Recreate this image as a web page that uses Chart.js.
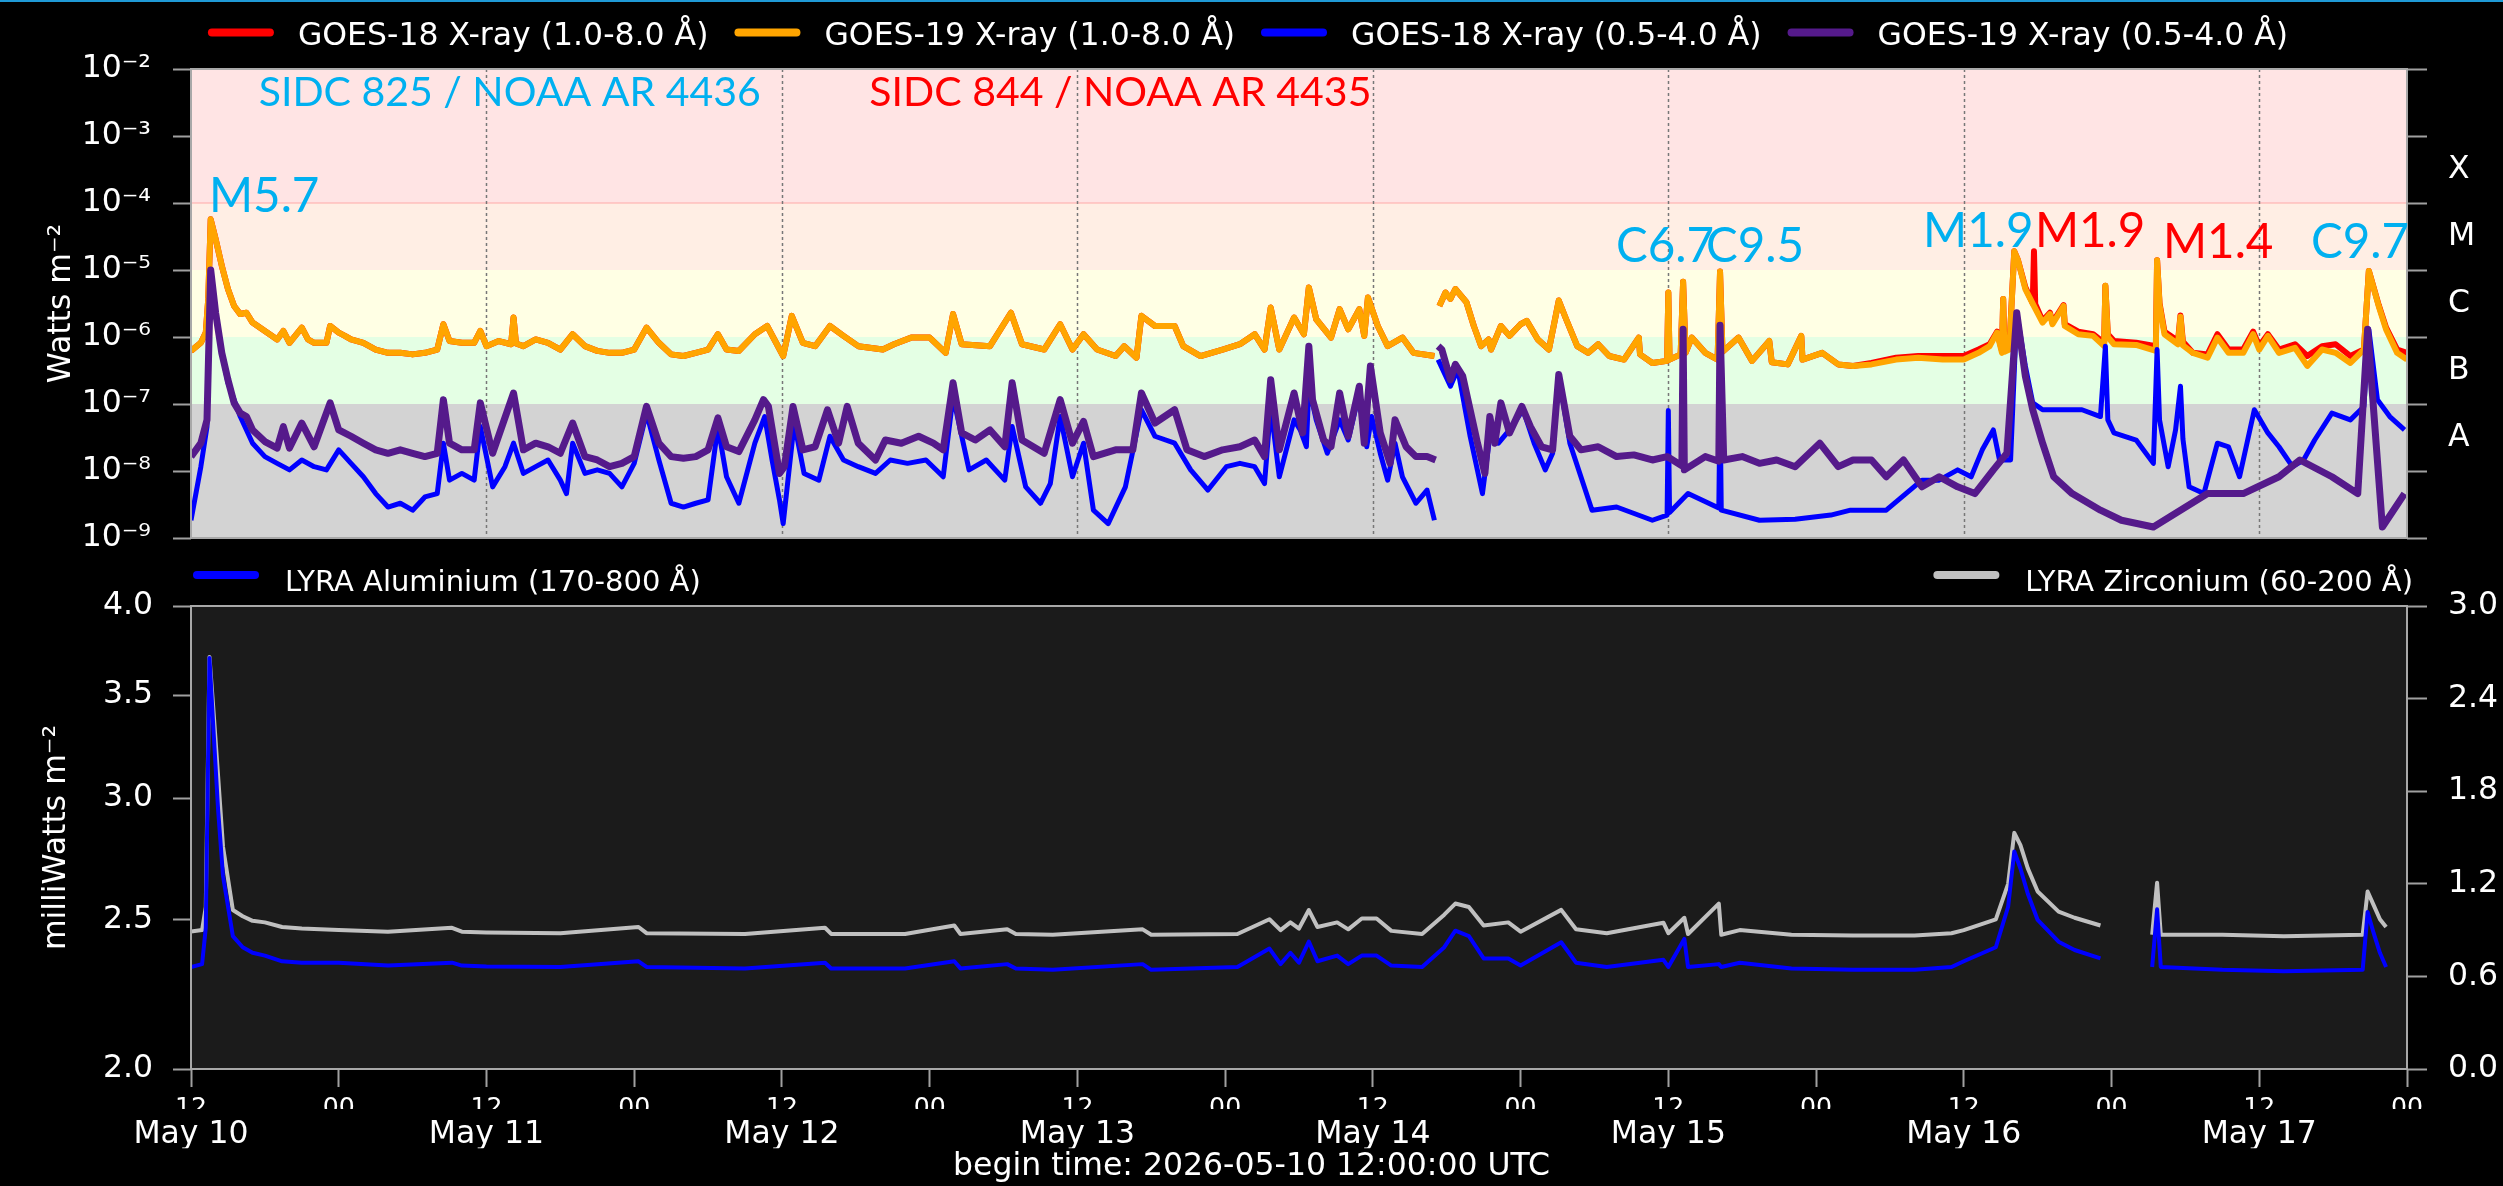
<!DOCTYPE html>
<html><head><meta charset="utf-8">
<script src="https://cdn.jsdelivr.net/npm/chart.js@4.4.1/dist/chart.umd.min.js"></script>
<style>
html,body{margin:0;padding:0;background:#000;width:2503px;height:1186px;overflow:hidden;}
#topline{position:absolute;left:0;top:0;width:2503px;height:2px;background:#1f9ad6;}
#cA{position:absolute;left:0;top:0;}
#cB{position:absolute;left:0;top:548px;}
</style></head><body>
<canvas id="cA" width="2503" height="560"></canvas>
<canvas id="cB" width="2503" height="638"></canvas>
<div id="topline"></div>
<script>
// ---------------- DATA (hours since 2026-05-10 12:00 UTC) ----------------
const legendTop = ['GOES-18 X-ray (1.0-8.0 Å)','GOES-19 X-ray (1.0-8.0 Å)','GOES-18 X-ray (0.5-4.0 Å)','GOES-19 X-ray (0.5-4.0 Å)'];
const legendBottom = ['LYRA Aluminium (170-800 Å)','LYRA Zirconium (60-200 Å)'];
const hourTickLabels = ['12','00'];
const dateLabels = ['May 10','May 11','May 12','May 13','May 14','May 15','May 16','May 17'];
const beginTimeLabel = 'begin time: 2026-05-10 12:00:00 UTC';
const decadeValues = [1e-9,1e-8,1e-7,1e-6,1e-5,1e-4,1e-3,1e-2];
const classLetters = ['X','M','C','B','A'];
const classMids = [Math.pow(10,-3.5),Math.pow(10,-4.5),Math.pow(10,-5.5),Math.pow(10,-6.5),Math.pow(10,-7.5)];
const regionLabels = ['SIDC 825 / NOAA AR 4436','SIDC 844 / NOAA AR 4435'];
const regionTimes = [5.5, 55.1];
const regionLevels = [2.78e-3, 2.78e-3];
const regionColors = ['#00b0f0','#ff0000'];
const flareLabels = ['M5.7','C6.7','C9.5','M1.9','M1.9','M1.4','C9.7'];
const flareTimes = [1.46, 115.75, 123.06, 140.69, 149.78, 160.18, 172.2];
const flareLevels = [7.4e-5, 1.31e-5, 1.31e-5, 2.2e-5, 2.2e-5, 1.5e-5, 1.5e-5];
const flareColors = ['#00b0f0','#00b0f0','#00b0f0','#00b0f0','#ff0000','#ff0000','#00b0f0'];

const goes19LongData = [[0,6.2e-7],[0.8,8.2e-7],[1.2,1.16e-6],[1.4,3.7e-6],[1.6,5.7e-5],[2.0,2.9e-5],[2.5,1.16e-5],[3.0,5.2e-6],[3.5,2.9e-6],[4.0,2.2e-6],[4.5,2.3e-6],[5.0,1.64e-6],[6.0,1.23e-6],[7.0,9.2e-7],[7.5,1.23e-6],[8.0,8.2e-7],[9.0,1.38e-6],[9.5,9.2e-7],[10,8.2e-7],[11,8.2e-7],[11.3,1.46e-6],[12,1.16e-6],[12.5,1.04e-6],[13,9.2e-7],[14,8.2e-7],[15,6.5e-7],[16,5.8e-7],[17,5.8e-7],[18,5.5e-7],[19,5.8e-7],[20,6.5e-7],[20.5,1.55e-6],[21,8.7e-7],[22,8.2e-7],[23,8.2e-7],[23.5,1.23e-6],[24,7.3e-7],[25,8.7e-7],[26,7.8e-7],[26.2,1.95e-6],[26.4,8.0e-7],[27,7.3e-7],[28,9.2e-7],[29,8.2e-7],[30,6.5e-7],[31,1.10e-6],[32,7.3e-7],[33,6.2e-7],[34,5.8e-7],[35,5.8e-7],[36,6.5e-7],[37,1.38e-6],[38,8.2e-7],[39,5.5e-7],[40,5.2e-7],[41,5.8e-7],[42,6.5e-7],[42.8,1.10e-6],[43.5,6.5e-7],[44.5,6.2e-7],[45.8,1.10e-6],[46.8,1.46e-6],[48.1,5.2e-7],[48.8,2.07e-6],[49.7,8.2e-7],[50.7,7.3e-7],[51.9,1.46e-6],[53.0,1.04e-6],[54.2,7.3e-7],[56.2,6.5e-7],[57.1,7.8e-7],[58.5,9.8e-7],[60.0,9.8e-7],[61.3,5.8e-7],[61.9,2.2e-6],[62.6,7.8e-7],[64.9,7.3e-7],[66.6,2.3e-6],[67.5,7.8e-7],[69.3,6.5e-7],[70.6,1.55e-6],[71.6,6.5e-7],[72.5,1.10e-6],[73.6,6.5e-7],[75.1,5.2e-7],[75.8,7.3e-7],[76.8,4.9e-7],[77.2,2.07e-6],[78.3,1.46e-6],[79.9,1.46e-6],[80.6,7.3e-7],[82.0,5.2e-7],[83.8,6.5e-7],[85.2,7.8e-7],[86.4,1.10e-6],[87.2,6.5e-7],[87.7,2.75e-6],[88.4,6.5e-7],[89.6,1.95e-6],[90.4,1.10e-6],[90.8,5.5e-6],[91.4,1.84e-6],[92.6,9.8e-7],[93.3,2.6e-6],[94.0,1.30e-6],[94.9,2.6e-6],[95.3,1.04e-6],[95.6,3.9e-6],[96.4,1.46e-6],[97.2,7.3e-7],[98.4,9.8e-7],[99.3,5.8e-7],[101.0,5.2e-7],[101.2,null],[101.4,2.9e-6],[101.9,4.6e-6],[102.3,3.7e-6],[102.7,5.2e-6],[103.6,3.3e-6],[104.2,1.46e-6],[104.8,7.3e-7],[105.4,9.2e-7],[105.6,6.5e-7],[106.4,1.46e-6],[107.1,1.04e-6],[108.0,1.55e-6],[108.5,1.74e-6],[109.4,9.2e-7],[110.3,6.5e-7],[111.1,3.5e-6],[111.7,1.84e-6],[112.6,7.3e-7],[113.5,5.8e-7],[114.3,7.8e-7],[115.2,5.2e-7],[116.4,4.6e-7],[117.6,9.8e-7],[117.7,5.5e-7],[118.7,4.1e-7],[119.9,4.4e-7],[120.0,4.6e-6],[120.1,4.6e-7],[121.0,5.5e-7],[121.2,6.7e-6],[121.4,5.8e-7],[121.9,9.8e-7],[123.0,5.8e-7],[124.0,4.6e-7],[124.2,9.5e-6],[124.4,6.0e-7],[125.7,9.8e-7],[126.8,4.4e-7],[128.2,8.7e-7],[128.4,4.2e-7],[129.7,3.9e-7],[130.8,1.04e-6],[130.9,4.6e-7],[132.5,5.8e-7],[133.8,3.9e-7],[135.0,3.7e-7],[136.5,3.9e-7],[138.5,4.6e-7],[140.3,4.9e-7],[142.3,4.6e-7],[144.0,4.6e-7],[145.2,5.8e-7],[146.1,7.3e-7],[146.7,1.16e-6],[147.1,5.8e-7],[147.2,3.7e-6],[147.3,6.0e-7],[147.7,6.5e-7],[148.1,1.9e-5],[148.4,1.4e-5],[149.0,5.2e-6],[149.7,2.9e-6],[150.4,1.64e-6],[151.0,2.2e-6],[151.2,1.55e-6],[152.1,2.9e-6],[152.2,1.46e-6],[153.3,1.10e-6],[154.5,1.04e-6],[155.4,7.3e-7],[155.5,5.8e-6],[155.7,1.0e-6],[156.2,7.8e-7],[158.0,7.6e-7],[159.6,6.2e-7],[159.7,1.4e-5],[159.9,3.0e-6],[160.3,1.10e-6],[161.4,7.8e-7],[161.6,2.0e-6],[161.8,7.5e-7],[162.6,5.8e-7],[163.8,4.9e-7],[164.6,9.8e-7],[165.5,5.8e-7],[166.7,5.8e-7],[167.5,1.10e-6],[168.0,6.5e-7],[168.7,1.04e-6],[169.6,5.8e-7],[170.9,6.9e-7],[171.9,3.7e-7],[173.1,6.5e-7],[174.2,5.8e-7],[175.4,4.1e-7],[176.5,6.5e-7],[176.9,9.7e-6],[177.7,2.9e-6],[178.3,1.30e-6],[179.2,5.8e-7],[180,4.6e-7]];

const goes18LongData = [[0,6.2e-7],[0.8,8.2e-7],[1.2,1.16e-6],[1.4,3.7e-6],[1.6,5.7e-5],[2.0,2.9e-5],[2.5,1.16e-5],[3.0,5.2e-6],[3.5,2.9e-6],[4.0,2.2e-6],[4.5,2.3e-6],[5.0,1.64e-6],[6.0,1.23e-6],[7.0,9.2e-7],[7.5,1.23e-6],[8.0,8.2e-7],[9.0,1.38e-6],[9.5,9.2e-7],[10,8.2e-7],[11,8.2e-7],[11.3,1.46e-6],[12,1.16e-6],[12.5,1.04e-6],[13,9.2e-7],[14,8.2e-7],[15,6.5e-7],[16,5.8e-7],[17,5.8e-7],[18,5.5e-7],[19,5.8e-7],[20,6.5e-7],[20.5,1.55e-6],[21,8.7e-7],[22,8.2e-7],[23,8.2e-7],[23.5,1.23e-6],[24,7.3e-7],[25,8.7e-7],[26,7.8e-7],[26.2,1.95e-6],[26.4,8.0e-7],[27,7.3e-7],[28,9.2e-7],[29,8.2e-7],[30,6.5e-7],[31,1.10e-6],[32,7.3e-7],[33,6.2e-7],[34,5.8e-7],[35,5.8e-7],[36,6.5e-7],[37,1.38e-6],[38,8.2e-7],[39,5.5e-7],[40,5.2e-7],[41,5.8e-7],[42,6.5e-7],[42.8,1.10e-6],[43.5,6.5e-7],[44.5,6.2e-7],[45.8,1.10e-6],[46.8,1.46e-6],[48.1,5.2e-7],[48.8,2.07e-6],[49.7,8.2e-7],[50.7,7.3e-7],[51.9,1.46e-6],[53.0,1.04e-6],[54.2,7.3e-7],[56.2,6.5e-7],[57.1,7.8e-7],[58.5,9.8e-7],[60.0,9.8e-7],[61.3,5.8e-7],[61.9,2.2e-6],[62.6,7.8e-7],[64.9,7.3e-7],[66.6,2.3e-6],[67.5,7.8e-7],[69.3,6.5e-7],[70.6,1.55e-6],[71.6,6.5e-7],[72.5,1.10e-6],[73.6,6.5e-7],[75.1,5.2e-7],[75.8,7.3e-7],[76.8,4.9e-7],[77.2,2.07e-6],[78.3,1.46e-6],[79.9,1.46e-6],[80.6,7.3e-7],[82.0,5.2e-7],[83.8,6.5e-7],[85.2,7.8e-7],[86.4,1.10e-6],[87.2,6.5e-7],[87.7,2.75e-6],[88.4,6.5e-7],[89.6,1.95e-6],[90.4,1.10e-6],[90.8,5.5e-6],[91.4,1.84e-6],[92.6,9.8e-7],[93.3,2.6e-6],[94.0,1.30e-6],[94.9,2.6e-6],[95.3,1.04e-6],[95.6,3.9e-6],[96.4,1.46e-6],[97.2,7.3e-7],[98.4,9.8e-7],[99.3,5.8e-7],[101.0,5.2e-7],[101.2,null],[101.4,2.9e-6],[101.9,4.6e-6],[102.3,3.7e-6],[102.7,5.2e-6],[103.6,3.3e-6],[104.2,1.46e-6],[104.8,7.3e-7],[105.4,9.2e-7],[105.6,6.5e-7],[106.4,1.46e-6],[107.1,1.04e-6],[108.0,1.55e-6],[108.5,1.74e-6],[109.4,9.2e-7],[110.3,6.5e-7],[111.1,3.5e-6],[111.7,1.84e-6],[112.6,7.3e-7],[113.5,5.8e-7],[114.3,7.8e-7],[115.2,5.2e-7],[116.4,4.6e-7],[117.6,9.8e-7],[117.7,5.5e-7],[118.7,4.1e-7],[119.9,4.4e-7],[120.0,4.6e-6],[120.1,4.6e-7],[121.0,5.5e-7],[121.2,6.7e-6],[121.4,5.8e-7],[121.9,9.8e-7],[123.0,5.8e-7],[124.0,4.6e-7],[124.2,9.5e-6],[124.4,6.0e-7],[125.7,9.8e-7],[126.8,4.4e-7],[128.2,8.7e-7],[128.4,4.2e-7],[129.7,3.9e-7],[130.8,1.04e-6],[130.9,4.6e-7],[132.5,5.8e-7],[133.8,3.9e-7],[135.0,3.7e-7],[136.5,4.1e-7],[138.5,4.9e-7],[140.3,5.2e-7],[142.3,5.2e-7],[144.0,5.2e-7],[145.2,6.5e-7],[146.1,7.8e-7],[146.7,1.2e-6],[147.1,6.3e-7],[147.2,3.7e-6],[147.3,6.5e-7],[147.7,7.0e-7],[148.1,1.9e-5],[148.4,1.4e-5],[149.0,5.5e-6],[149.6,3.2e-6],[149.7,1.9e-5],[149.8,3.1e-6],[150.4,1.74e-6],[151.0,2.3e-6],[151.2,1.64e-6],[152.1,3.0e-6],[152.2,1.55e-6],[153.3,1.2e-6],[154.5,1.10e-6],[155.4,8.2e-7],[155.5,5.8e-6],[155.7,1.1e-6],[156.2,8.7e-7],[158.0,8.2e-7],[159.6,7.3e-7],[159.7,1.4e-5],[159.9,3.2e-6],[160.3,1.2e-6],[161.4,8.7e-7],[161.6,2.1e-6],[161.8,8.5e-7],[162.6,5.8e-7],[163.8,5.5e-7],[164.6,1.1e-6],[165.5,6.5e-7],[166.7,6.5e-7],[167.5,1.2e-6],[168.0,7.3e-7],[168.7,1.1e-6],[169.6,6.5e-7],[170.9,7.8e-7],[171.9,5.2e-7],[173.1,7.3e-7],[174.2,7.8e-7],[175.4,5.2e-7],[176.5,6.5e-7],[176.9,9.7e-6],[177.7,3.0e-6],[178.3,1.38e-6],[179.2,6.5e-7],[180,5.8e-7]];

const goes19ShortData = [[0,1.64e-8],[0.8,2.6e-8],[1.3,5.8e-8],[1.6,1.0e-5],[2.0,2.3e-6],[2.5,5.8e-7],[3.0,2.3e-7],[3.5,1.04e-7],[4.0,7.3e-8],[4.5,6.5e-8],[5.0,4.1e-8],[6.0,2.75e-8],[7.0,2.2e-8],[7.5,4.6e-8],[8.0,2.2e-8],[9.0,5.2e-8],[10,2.3e-8],[11.3,1.04e-7],[12,4.1e-8],[13,3.3e-8],[14,2.6e-8],[15,2.07e-8],[16,1.84e-8],[17,2.07e-8],[18,1.84e-8],[19,1.64e-8],[20,1.84e-8],[20.5,1.16e-7],[21,2.6e-8],[22,2.07e-8],[23,2.07e-8],[23.5,1.04e-7],[24.5,1.84e-8],[26.2,1.46e-7],[27,2.07e-8],[28,2.6e-8],[29,2.3e-8],[30,1.84e-8],[31,5.2e-8],[32,1.64e-8],[33,1.46e-8],[34,1.16e-8],[35,1.3e-8],[36,1.64e-8],[37,9.2e-8],[38,2.6e-8],[39,1.64e-8],[40,1.55e-8],[41,1.64e-8],[42,2.07e-8],[42.8,6.2e-8],[43.5,2.3e-8],[44.5,1.95e-8],[45.8,5.8e-8],[46.5,1.16e-7],[46.9,9.2e-8],[47.8,9.2e-9],[48.2,1.16e-8],[48.9,9.2e-8],[49.7,2.07e-8],[50.7,2.3e-8],[51.7,8.2e-8],[52.6,2.6e-8],[53.3,9.2e-8],[54.2,2.6e-8],[55.6,1.46e-8],[56.4,2.9e-8],[57.7,2.6e-8],[59.1,3.3e-8],[60.3,2.6e-8],[61.1,2.07e-8],[61.9,2.07e-7],[62.6,3.7e-8],[63.7,2.9e-8],[64.9,4.1e-8],[66.1,2.3e-8],[66.7,2.07e-7],[67.5,2.9e-8],[69.3,1.84e-8],[70.6,1.16e-7],[71.6,2.6e-8],[72.5,5.5e-8],[73.3,1.64e-8],[75.1,2.07e-8],[76.5,2.07e-8],[77.2,1.46e-7],[78.3,5.2e-8],[79.9,8.2e-8],[80.9,2.07e-8],[82.3,1.64e-8],[83.8,2.07e-8],[85.2,2.3e-8],[86.4,2.9e-8],[87.2,1.64e-8],[87.7,2.3e-7],[88.4,2.07e-8],[89.6,1.46e-7],[90.3,3.7e-8],[90.8,7.3e-7],[91.1,1.16e-7],[92.0,2.9e-8],[92.6,2.3e-8],[93.3,1.46e-7],[94.0,3.3e-8],[94.9,1.84e-7],[95.3,2.6e-8],[95.8,3.7e-7],[96.6,3.7e-8],[97.4,1.3e-8],[97.8,5.8e-8],[98.7,2.3e-8],[99.5,1.64e-8],[100.4,1.64e-8],[101.1,1.46e-8],[101.2,null],[101.3,7.3e-7],[101.6,6.5e-7],[102.3,2.3e-7],[102.7,3.9e-7],[103.3,2.6e-7],[103.9,8.2e-8],[104.5,2.6e-8],[105.1,9.2e-9],[105.5,6.5e-8],[105.9,2.6e-8],[106.4,1.04e-7],[107.1,3.7e-8],[108.1,9.2e-8],[108.8,4.6e-8],[109.7,2.3e-8],[110.6,2.07e-8],[111.1,2.75e-7],[112.0,3.3e-8],[112.9,2.07e-8],[114.3,2.3e-8],[115.8,1.64e-8],[117.2,1.74e-8],[118.7,1.46e-8],[119.9,1.64e-8],[121.1,1.2e-8],[121.2,1.3e-6],[121.3,1.04e-8],[123.0,1.64e-8],[124.1,1.4e-8],[124.2,1.5e-6],[124.5,1.46e-8],[126.0,1.64e-8],[127.4,1.3e-8],[128.8,1.46e-8],[130.3,1.16e-8],[132.3,2.6e-8],[133.8,1.16e-8],[135.0,1.46e-8],[136.5,1.46e-8],[137.7,8.2e-9],[139.1,1.46e-8],[140.6,5.8e-9],[142.0,8.2e-9],[143.5,5.8e-9],[144.9,4.6e-9],[146.4,1.04e-8],[147.5,1.84e-8],[148.3,2.3e-6],[149.0,2.6e-7],[149.6,8.2e-8],[150.4,2.6e-8],[151.3,8.2e-9],[152.8,4.6e-9],[155.1,2.6e-9],[156.8,1.84e-9],[159.4,1.46e-9],[163.8,4.6e-9],[166.7,4.6e-9],[169.6,8.2e-9],[171.3,1.46e-8],[173.9,8.2e-9],[176.0,4.6e-9],[176.8,1.3e-6],[178.0,1.46e-9],[179.8,4.6e-9]];

const goes18ShortData = [[0,1.84e-9],[0.8,1.16e-8],[1.3,4.6e-8],[1.6,1.0e-5],[2.0,2.3e-6],[2.5,5.8e-7],[3.0,2.07e-7],[4.0,6.5e-8],[5.0,2.6e-8],[6.0,1.64e-8],[7.0,1.3e-8],[8.0,1.04e-8],[9.0,1.46e-8],[10,1.16e-8],[11,1.04e-8],[12,2.07e-8],[13,1.3e-8],[14,8.2e-9],[15,4.6e-9],[16,2.9e-9],[17,3.3e-9],[18,2.6e-9],[19,4.1e-9],[20,4.6e-9],[20.5,2.6e-8],[21,7.3e-9],[22,9.2e-9],[23,7.3e-9],[23.5,4.6e-8],[24.5,5.8e-9],[25.5,1.16e-8],[26.2,2.6e-8],[27,9.2e-9],[28,1.16e-8],[29,1.46e-8],[30,7.3e-9],[30.5,4.6e-9],[31,2.6e-8],[32,9.2e-9],[33,1.04e-8],[34,9.2e-9],[35,5.8e-9],[36,1.3e-8],[37,7.3e-8],[38,1.46e-8],[39,3.3e-9],[40,2.9e-9],[41,3.3e-9],[42,3.7e-9],[42.8,4.6e-8],[43.5,8.2e-9],[44.5,3.3e-9],[45.8,2.6e-8],[46.6,6.5e-8],[47.2,1.46e-8],[47.8,3.7e-9],[48.1,1.64e-9],[49.0,5.2e-8],[49.8,9.2e-9],[51.0,7.3e-9],[51.9,3.3e-8],[53.0,1.46e-8],[54.2,1.16e-8],[55.6,9.2e-9],[56.8,1.46e-8],[58.2,1.3e-8],[59.7,1.46e-8],[61.1,8.2e-9],[61.9,1.3e-7],[63.2,1.04e-8],[64.6,1.46e-8],[66.1,7.3e-9],[66.7,4.6e-8],[67.8,5.8e-9],[69.0,3.3e-9],[69.8,6.5e-9],[70.6,6.5e-8],[71.6,8.2e-9],[72.5,2.6e-8],[73.3,2.6e-9],[74.5,1.64e-9],[75.9,5.8e-9],[77.2,8.2e-8],[78.3,3.3e-8],[79.9,2.6e-8],[81.2,1.04e-8],[82.6,5.2e-9],[84.1,1.16e-8],[85.2,1.3e-8],[86.4,1.16e-8],[87.2,6.5e-9],[87.7,9.2e-8],[88.4,8.2e-9],[89.6,5.8e-8],[90.1,4.1e-8],[90.6,2.3e-8],[90.8,1.84e-7],[91.4,5.8e-8],[92.3,1.84e-8],[93.3,5.8e-8],[94.0,2.9e-8],[94.9,1.46e-7],[95.5,2.3e-8],[95.9,6.5e-8],[96.6,1.84e-8],[97.2,7.3e-9],[97.8,2.6e-8],[98.4,8.2e-9],[99.5,3.3e-9],[100.4,5.2e-9],[101.0,1.84e-9],[101.2,null],[101.3,4.6e-7],[102.3,1.84e-7],[102.9,3.3e-7],[103.9,3.3e-8],[104.9,4.6e-9],[105.5,3.3e-8],[106.2,2.6e-8],[107.1,4.1e-8],[108.2,8.2e-8],[109.1,2.6e-8],[110.0,1.04e-8],[110.6,1.84e-8],[111.1,2.6e-7],[112.0,2.6e-8],[112.9,8.2e-9],[113.8,2.6e-9],[115.8,2.9e-9],[118.7,1.84e-9],[119.9,2.2e-9],[120.0,8.0e-8],[120.1,2.4e-9],[121.6,4.6e-9],[124.1,2.8e-9],[124.2,1.16e-7],[124.3,2.6e-9],[127.4,1.84e-9],[130.3,1.9e-9],[133.2,2.2e-9],[134.8,2.6e-9],[137.7,2.6e-9],[140.6,7.3e-9],[142.0,7.3e-9],[143.5,1.04e-8],[144.6,8.2e-9],[145.5,2.07e-8],[146.4,4.1e-8],[146.9,1.46e-8],[147.8,1.46e-8],[148.3,2.3e-6],[149.0,3.7e-7],[149.6,1.04e-7],[150.4,8.2e-8],[152.2,8.2e-8],[153.6,8.2e-8],[155.1,6.5e-8],[155.5,7.3e-7],[155.7,5.8e-8],[156.2,3.7e-8],[158.0,2.9e-8],[159.4,1.3e-8],[159.7,6.5e-7],[159.9,5.8e-8],[160.6,1.16e-8],[161.2,4.1e-8],[161.6,1.84e-7],[161.8,3.0e-8],[162.3,5.8e-9],[163.5,4.6e-9],[164.6,2.6e-8],[165.5,2.3e-8],[166.4,8.2e-9],[167.6,8.2e-8],[168.7,3.7e-8],[169.6,2.3e-8],[170.7,1.16e-8],[171.6,1.46e-8],[172.5,2.9e-8],[173.9,7.3e-8],[175.4,5.8e-8],[176.5,9.2e-8],[176.9,1.3e-6],[177.6,1.16e-7],[178.6,6.5e-8],[179.8,4.1e-8]];

const lyraTime = [0,0.9,1.2,1.5,1.8,2.2,2.6,3.4,4.2,5,6,7.4,9,12,16,21.2,22,24,30,36.35,37,45,51.5,52,58,62,62.5,66.3,67,70,77.3,78,85,87.6,88.5,89.3,90,90.8,91.5,93.1,94,95.1,96.3,97.5,100,101.8,102.7,103.8,105,107,108,111.3,112.5,115,119.6,120,121.3,121.6,124.1,124.3,125.8,130,135,140,143,144,146.6,147.6,148.1,148.6,149.2,150,151.7,153,155.1,155.2,159.3,159.7,160,165,170,176.4,176.8,177.3,177.8,178.3];
const lyraAluminium = [2.33,2.34,2.47,3.70,3.35,2.95,2.67,2.44,2.40,2.38,2.37,2.35,2.345,2.345,2.335,2.345,2.335,2.332,2.33,2.35,2.33,2.325,2.345,2.325,2.325,2.35,2.325,2.34,2.325,2.32,2.34,2.32,2.33,2.395,2.34,2.38,2.345,2.42,2.35,2.37,2.34,2.37,2.37,2.335,2.33,2.40,2.46,2.44,2.36,2.36,2.335,2.418,2.345,2.33,2.355,2.33,2.43,2.33,2.34,2.33,2.345,2.325,2.32,2.32,2.33,2.35,2.40,2.55,2.77,2.70,2.60,2.50,2.42,2.39,2.36,null,2.33,2.54,2.33,2.32,2.315,2.32,2.53,2.45,2.38,2.33];
const lyraZirconium = [0.89,0.90,1.05,2.67,2.35,1.90,1.44,1.03,0.99,0.96,0.95,0.92,0.91,0.90,0.89,0.915,0.89,0.885,0.88,0.92,0.88,0.875,0.915,0.875,0.875,0.93,0.875,0.905,0.875,0.87,0.905,0.87,0.875,0.97,0.90,0.95,0.91,1.03,0.92,0.95,0.905,0.975,0.975,0.895,0.875,1.00,1.072,1.05,0.93,0.95,0.89,1.031,0.905,0.88,0.948,0.88,0.98,0.875,1.072,0.87,0.90,0.87,0.865,0.865,0.88,0.90,0.97,1.20,1.53,1.45,1.30,1.15,1.02,0.98,0.93,null,0.87,1.207,0.87,0.87,0.86,0.87,1.15,1.06,0.97,0.92];
const alTicks = [2.0,2.5,3.0,3.5,4.0];
const zrTicks = [0,0.6,1.2,1.8,2.4,3.0];
const hourTicks = [0,12,24,36,48,60,72,84,96,108,120,132,144,156,168,180];
const dayTicks = [0,24,48,72,96,120,144,168];
const noonLines = [24,48,72,96,120,144,168];

// ---------------- helpers ----------------
Chart.defaults.font.family = "'DejaVu Sans', sans-serif";
const toPts = arr => arr.map(p => ({x:p[0], y:p[1]}));
const SUP = {'-':'⁻','0':'⁰','1':'¹','2':'²','3':'³','4':'⁴','5':'⁵','6':'⁶','7':'⁷','8':'⁸','9':'⁹'};
const powLabel = v => '10' + String(Math.round(Math.log10(v))).split('').map(c=>SUP[c]).join('');
const near = (a,b) => Math.abs(Math.log10(a)-Math.log10(b)) < 1e-6;
const classLabel = v => { const i = classMids.findIndex(m=>near(m,v)); return i>=0 ? classLetters[i] : ''; };
const isDecade = v => decadeValues.some(d=>near(d,v));
const TICKC = '#a0a0a0', FRAMEC = '#a8a8a8';
const noPad = s => { s.paddingTop = 0; s.paddingBottom = 0; s.paddingLeft = 0; s.paddingRight = 0; };

function drawSwatch(ctx, x, y, color){
  ctx.save(); ctx.strokeStyle = color; ctx.lineWidth = 8; ctx.lineCap = 'round';
  ctx.beginPath(); ctx.moveTo(x+4, y); ctx.lineTo(x+62, y); ctx.stroke(); ctx.restore();
}
function drawFrame(chart){
  const {ctx, chartArea:a} = chart;
  ctx.save(); ctx.strokeStyle = FRAMEC; ctx.lineWidth = 2;
  ctx.strokeRect(a.left, a.top, a.right-a.left, a.bottom-a.top); ctx.restore();
}

const bandsPlugin = {
  id:'bands',
  beforeDraw(chart){
    const {ctx, chartArea:a, scales:{y}} = chart;
    const bands = [[1e-2,1e-4,'#ffe4e4'],[1e-4,1e-5,'#ffeee4'],[1e-5,1e-6,'#ffffe4'],[1e-6,1e-7,'#e4ffe4'],[1e-7,1e-9,'#d3d3d3']];
    ctx.save();
    bands.forEach(b=>{ const y1=y.getPixelForValue(b[0]), y2=y.getPixelForValue(b[1]); ctx.fillStyle=b[2]; ctx.fillRect(a.left,y1,a.right-a.left,y2-y1); });
    ctx.strokeStyle='rgba(255,150,150,0.5)'; ctx.lineWidth=1.5;
    [1e-4].forEach(v=>{const yy=y.getPixelForValue(v); ctx.beginPath(); ctx.moveTo(a.left,yy); ctx.lineTo(a.right,yy); ctx.stroke();});
    ctx.restore();
  },
  beforeDatasetsDraw(chart){
    const {ctx, chartArea:a, scales:{x}} = chart;
    ctx.save(); ctx.strokeStyle='#777'; ctx.lineWidth=1.5; ctx.setLineDash([3,3]);
    noonLines.forEach(t=>{ const xx = Math.round(x.getPixelForValue(t))+0.5; ctx.beginPath(); ctx.moveTo(xx,a.top); ctx.lineTo(xx,a.bottom); ctx.stroke(); });
    ctx.restore();
  },
  afterDatasetsDraw(chart){ drawFrame(chart); },
  afterDraw(chart){
    const {ctx, scales:{x,y}} = chart;
    ctx.save();
    ctx.font = "31.5px 'DejaVu Sans'"; ctx.textBaseline='alphabetic'; ctx.textAlign='left';
    const colors = ['#ff0000','#ffa500','#0000ff','#551a8b'];
    const widths = legendTop.map(t=>ctx.measureText(t).width);
    const total = widths.reduce((s,w)=>s+w+66+24,0) + 26*(legendTop.length-1);
    let cx = 1248 - total/2;
    legendTop.forEach((t,i)=>{ drawSwatch(ctx,cx,32.5,colors[i]); ctx.fillStyle='#fff'; ctx.fillText(t,cx+66+24,45); cx += 66+24+widths[i]+26; });
    ctx.font = "41px Lato";
    regionLabels.forEach((t,i)=>{ ctx.fillStyle=regionColors[i]; ctx.fillText(t, x.getPixelForValue(regionTimes[i]), y.getPixelForValue(regionLevels[i])); });
    ctx.font = "47.5px Lato";
    flareLabels.forEach((t,i)=>{ ctx.fillStyle=flareColors[i]; ctx.fillText(t, x.getPixelForValue(flareTimes[i]), y.getPixelForValue(flareLevels[i])); });
    ctx.restore();
  }
};

new Chart(document.getElementById('cA'), {
  type:'line',
  data:{datasets:[
    {label:legendTop[3], data:toPts(goes19ShortData), borderColor:'#551a8b', borderWidth:7, order:0},
    {label:legendTop[2], data:toPts(goes18ShortData), borderColor:'#0000ff', borderWidth:5, order:1},
    {label:legendTop[1], data:toPts(goes19LongData), borderColor:'#ffa500', borderWidth:6, order:2},
    {label:legendTop[0], data:toPts(goes18LongData), borderColor:'#ff0000', borderWidth:6, order:3}
  ]},
  options:{
    responsive:false, animation:false, devicePixelRatio:1,
    layout:{padding:{top:69,bottom:22,left:0,right:0}},
    elements:{point:{radius:0}, line:{tension:0, borderJoinStyle:'round'}},
    plugins:{legend:{display:false}, tooltip:{enabled:false}},
    scales:{
      x:{type:'linear', display:false, min:0, max:180, afterFit:noPad},
      y:{type:'logarithmic', position:'left', min:1e-9, max:1e-2,
         afterFit(s){s.width=191; noPad(s);}, afterBuildTicks(s){s.ticks=decadeValues.map(v=>({value:v}));},
         ticks:{autoSkip:false, color:'#fff', font:{size:31.5}, padding:22, callback:v=>powLabel(v)},
         grid:{display:true, drawOnChartArea:false, tickLength:18, tickWidth:2, tickColor:TICKC},
         border:{display:false},
         title:{display:true, text:'Watts m⁻²', color:'#fff', font:{size:31.5}, padding:{top:43,bottom:0}}},
      yR:{type:'logarithmic', position:'right', min:1e-9, max:1e-2,
         afterFit(s){s.width=96; noPad(s);},
         afterBuildTicks(s){s.ticks=decadeValues.concat(classMids).sort((a,b)=>a-b).map(v=>({value:v}));},
         ticks:{autoSkip:false, color:'#fff', font:{size:31.5}, padding:21, callback:v=>classLabel(v)},
         grid:{display:true, drawOnChartArea:false, tickLength:20, tickWidth:2, tickColor:c=> (c.tick && isDecade(c.tick.value)) ? TICKC : 'rgba(0,0,0,0)'},
         border:{display:false}}
    }
  },
  plugins:[bandsPlugin]
});

const lyraPlugin = {
  id:'lyra',
  beforeDraw(chart){ const {ctx, chartArea:a} = chart; ctx.save(); ctx.fillStyle='#1b1b1b'; ctx.fillRect(a.left,a.top,a.right-a.left,a.bottom-a.top); ctx.restore(); },
  afterDatasetsDraw(chart){ drawFrame(chart); },
  afterDraw(chart){
    const {ctx} = chart;
    ctx.save(); ctx.font = "29px 'DejaVu Sans'"; ctx.textBaseline='alphabetic'; ctx.fillStyle='#fff';
    drawSwatch(ctx,193,27,'#0000ff'); ctx.textAlign='left'; ctx.fillText(legendBottom[0], 193+66+26, 43);
    const w = ctx.measureText(legendBottom[1]).width;
    ctx.textAlign='right'; ctx.fillStyle='#fff'; ctx.fillText(legendBottom[1], 2413, 43);
    drawSwatch(ctx, 2413 - w - 26 - 66, 27, '#c0c0c0');
    ctx.restore();
  }
};

new Chart(document.getElementById('cB'), {
  type:'line',
  data:{datasets:[
    {label:legendBottom[0], data:lyraTime.map((t,i)=>({x:t,y:lyraAluminium[i]})), yAxisID:'yL', borderColor:'#0000ff', borderWidth:4, order:0},
    {label:legendBottom[1], data:lyraTime.map((t,i)=>({x:t,y:lyraZirconium[i]})), yAxisID:'yR', borderColor:'#c0c0c0', borderWidth:4, order:1}
  ]},
  options:{
    responsive:false, animation:false, devicePixelRatio:1,
    layout:{padding:{top:58,left:0,right:0,bottom:0}},
    elements:{point:{radius:0}, line:{tension:0, borderJoinStyle:'round'}},
    plugins:{legend:{display:false}, tooltip:{enabled:false},
      title:{display:true, position:'bottom', text:beginTimeLabel, color:'#fff', font:{size:31.5, weight:'normal', lineHeight:1.2}, padding:0}},
    scales:{
      x:{type:'linear', position:'bottom', min:0, max:180, weight:0,
         afterFit(s){s.height=40; noPad(s);}, afterBuildTicks(s){s.ticks=hourTicks.map(v=>({value:v}));},
         ticks:{autoSkip:false, maxRotation:0, color:'#fff', font:{size:25.2}, padding:6, callback:v=>hourTickLabels[Math.round(v/12)%2]},
         grid:{display:true, drawOnChartArea:false, tickLength:18, tickWidth:2, tickColor:TICKC}, border:{display:false}},
      x2:{type:'linear', position:'bottom', min:0, max:180, weight:1,
         afterFit(s){s.height=39.2; noPad(s);}, afterBuildTicks(s){s.ticks=dayTicks.map(v=>({value:v}));},
         ticks:{autoSkip:false, maxRotation:0, color:'#fff', font:{size:31.5}, padding:7, callback:v=>dateLabels[Math.round(v/24)]},
         grid:{display:false, drawTicks:false}, border:{display:false}},
      yL:{type:'logarithmic', position:'left', min:2, max:4,
         afterFit(s){s.width=191; noPad(s);}, afterBuildTicks(s){s.ticks=alTicks.map(v=>({value:v}));},
         ticks:{autoSkip:false, color:'#fff', font:{size:31.5}, padding:20, callback:v=>Number(v).toFixed(1)},
         grid:{display:true, drawOnChartArea:false, tickLength:18, tickWidth:2, tickColor:TICKC}, border:{display:false},
         title:{display:true, text:'milliWatts m⁻²', color:'#fff', font:{size:31.5}, padding:{top:38,bottom:0}}},
      yR:{type:'linear', position:'right', min:0, max:3,
         afterFit(s){s.width=96; noPad(s);}, afterBuildTicks(s){s.ticks=zrTicks.map(v=>({value:v}));},
         ticks:{autoSkip:false, color:'#fff', font:{size:31.5}, padding:21, callback:v=>Number(v).toFixed(1)},
         grid:{display:true, drawOnChartArea:false, tickLength:20, tickWidth:2, tickColor:TICKC}, border:{display:false}}
    }
  },
  plugins:[lyraPlugin]
});
</script></body></html>
